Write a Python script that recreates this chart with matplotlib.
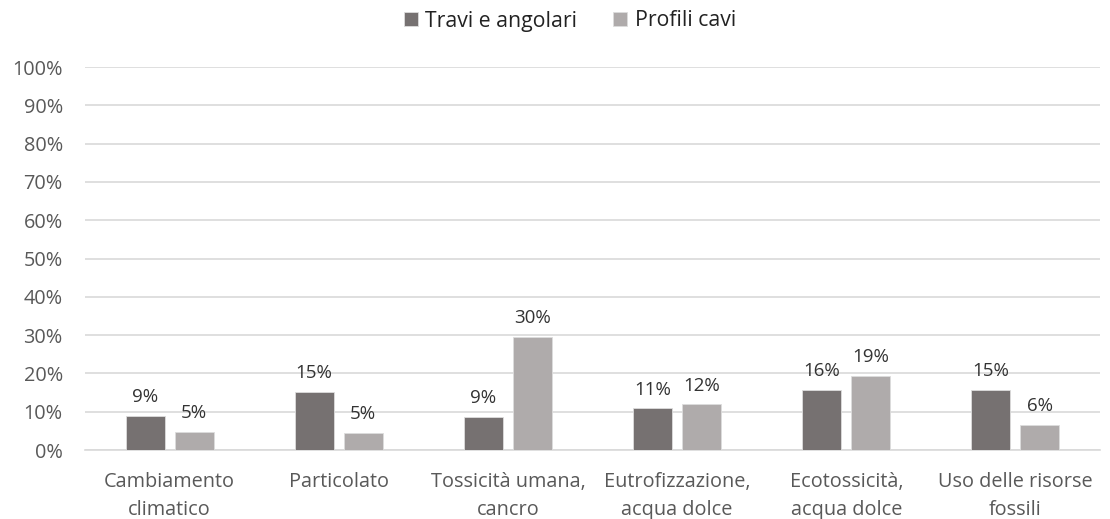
import matplotlib
matplotlib.use("Agg")
import matplotlib.pyplot as plt
import numpy as np

categories = ["Cambiamento\nclimatico", "Particolato", "Tossicità umana,\ncancro",
              "Eutrofizzazione,\nacqua dolce", "Ecotossicità,\nacqua dolce", "Uso delle risorse\nfossili"]
travi = [8.9, 15.2, 8.7, 10.9, 15.7, 15.7]
travi_labels = ["9%", "15%", "9%", "11%", "16%", "15%"]
profili = [4.8, 4.5, 29.6, 11.9, 19.3, 6.6]
profili_labels = ["5%", "5%", "30%", "12%", "19%", "6%"]
yticks = list(range(0, 101, 10))
ytick_labels = [f"{v}%" for v in yticks]

plt.rcParams['font.family'] = ['Open Sans', 'DejaVu Sans']

fig = plt.figure(figsize=(11.10, 5.19), dpi=100)
ax = fig.add_axes([85/1110, 1-450/519, 1015/1110, (450-67)/519])

x = np.arange(len(categories))
w = 0.23
gap = 0.06
c1 = "#767171"
c2 = "#AFABAB"
b1 = ax.bar(x - (w+gap)/2, travi, w, color=c1, edgecolor="#DDDDDD", linewidth=0.6, label="Travi e angolari", zorder=3)
b2 = ax.bar(x + (w+gap)/2, profili, w, color=c2, edgecolor="#DDDDDD", linewidth=0.6, label="Profili cavi", zorder=3)

for bars, labs in ((b1, travi_labels), (b2, profili_labels)):
    for r, lab in zip(bars, labs):
        ax.annotate(lab, (r.get_x() + r.get_width()/2, r.get_height()), xytext=(0, 7),
                    textcoords="offset points", ha="center", va="bottom", fontsize=13.5, color="#333333")

ax.set_xlim(-0.5, len(categories) - 0.5)
ax.set_ylim(0, 100)
ax.set_yticks(yticks)
ax.set_yticklabels(ytick_labels, fontsize=14.3, color="#595959")
ax.set_xticks(x)
ax.set_xticklabels(categories, fontsize=14.3, color="#595959", linespacing=1.55)
ax.tick_params(axis="both", length=0)
ax.tick_params(axis="x", pad=16)
ax.tick_params(axis="y", pad=16)
ax.grid(axis="y", color="#D9D9D9", linewidth=1.2, zorder=0)
for s in ["top", "right", "left"]:
    ax.spines[s].set_visible(False)
ax.spines["bottom"].set_color("#D9D9D9")
ax.spines["bottom"].set_linewidth(1.2)

fig.legend(handles=[b1, b2], loc="center", bbox_to_anchor=(570/1110, 1-21/519), ncol=2,
           frameon=False, fontsize=15.3, handlelength=0.65, handleheight=0.65,
           handletextpad=0.35, columnspacing=1.7, labelcolor="#222222")

fig.savefig("out.png", dpi=100)
